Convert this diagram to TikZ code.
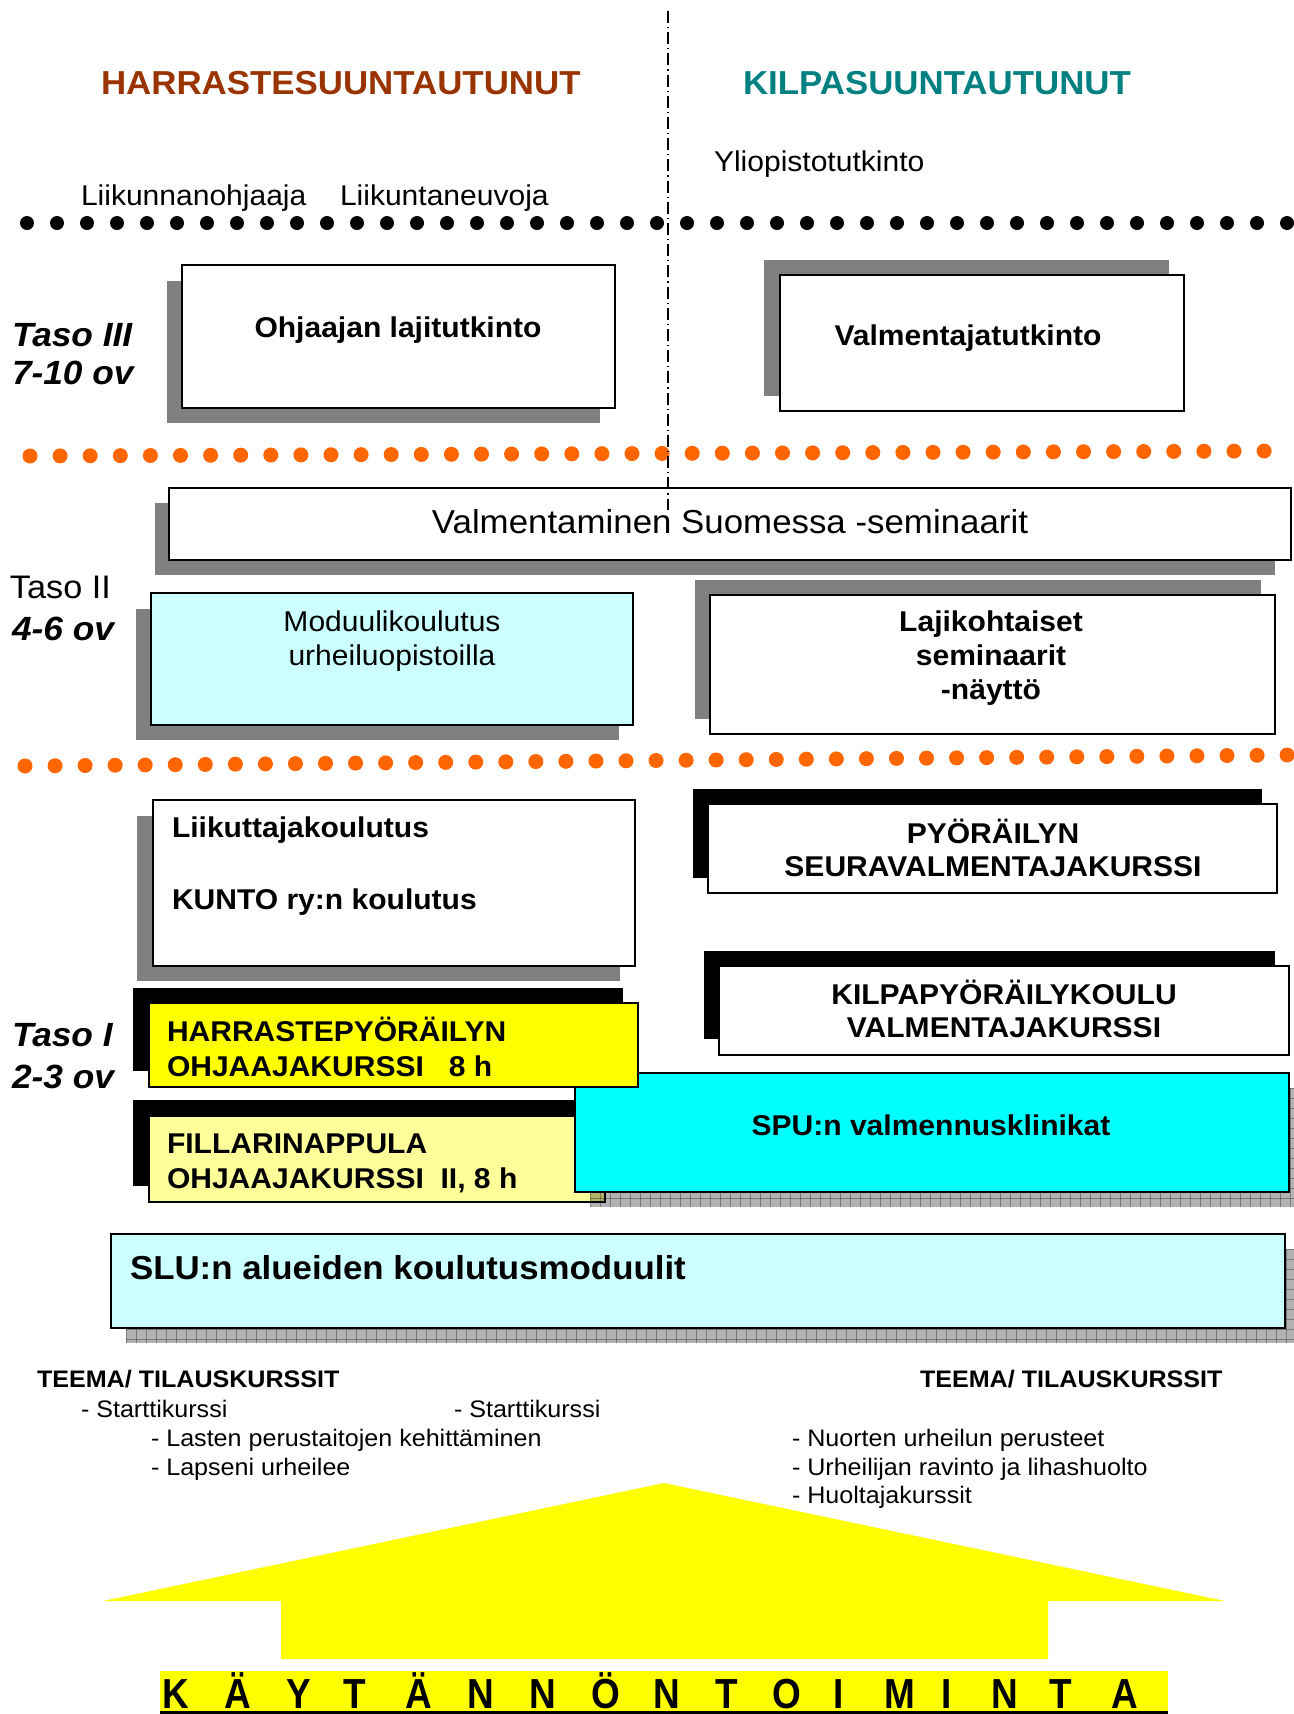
\documentclass[tikz,border=0pt]{standalone}
\usepackage{fontspec}
\setmainfont{Liberation Sans}[FakeStretch=1.05]
\newfontfamily\kayt{Liberation Sans}[FakeStretch=0.88]
\newcommand\fsz[1]{\fontsize{#1}{#1}\selectfont}
\definecolor{harr}{HTML}{993300}
\definecolor{kilpa}{HTML}{008080}
\definecolor{orng}{HTML}{FF6600}
\definecolor{shgray}{HTML}{808080}
\definecolor{lcyan}{HTML}{CCFFFF}
\definecolor{cyanb}{HTML}{00FFFF}
\definecolor{ylw}{HTML}{FFFF00}
\definecolor{lylw}{HTML}{FFFF99}
\begin{document}
\begin{tikzpicture}[x=0.5pt,y=-0.5pt,
  every node/.style={inner sep=0pt,outer sep=0pt},
  boxline/.style={draw=black,line width=0.8pt},
  gshadow/.style={fill=shgray},
  bshadow/.style={fill=black},
  lbl/.style={anchor=base},
  lblw/.style={anchor=base west},
  headf/.style={font=\bfseries\fsz{16.6}},
  regf/.style={font=\fsz{14.3}},
  boldf/.style={font=\bfseries\fsz{14.3}},
  tasof/.style={font=\bfseries\itshape\fsz{16.8}},
  smallf/.style={font=\fsz{11.95}},
  smallbf/.style={font=\bfseries\fsz{11.95}},
  gridl/.style={draw=black,line width=0.4pt,draw opacity=0.3}
]
\useasboundingbox (0,0) rectangle (1294,1714);

% ---------- headings ----------
\node[lblw,headf,text=harr] (h1) at (101,94) {HARRASTESUUNTAUTUNUT};
\node[lblw,headf,text=kilpa] (h2) at (743,94) {KILPASUUNTAUTUNUT};
\node[lblw,regf] (t1) at (714,171) {Yliopistotutkinto};
\node[lblw,regf] (t2) at (81,205) {Liikunnanohjaaja};
\node[lblw,regf] (t3) at (340,205) {Liikuntaneuvoja};

% ---------- dot rows ----------
\foreach \i in {0,...,42} \fill (27+30*\i,223) circle (3.5pt);
\foreach \i in {0,...,41} \fill[orng] ({30+30.1*\i},{456-5*\i/41}) circle (3.75pt);
\foreach \i in {0,...,42} \fill[orng] ({25+30.05*\i},{766-11*\i/42}) circle (3.75pt);

% ---------- level labels ----------
\node[lblw,tasof] (l3a) at (12,346) {Taso III};
\node[lblw,tasof] (l3b) at (12,384) {7-10 ov};
\node[lblw,font=\fsz{16.3}] (l2a) at (10,598) {Taso II};
\node[lblw,tasof] (l2b) at (12,640) {4-6 ov};
\node[lblw,tasof] (l1a) at (12,1046) {Taso I};
\node[lblw,tasof] (l1b) at (12,1088) {2-3 ov};

% ---------- Taso III boxes ----------
\fill[gshadow] (167,281) rectangle (600,423);
\draw[boxline,fill=white] (182,265) rectangle (615,408);
\node[lbl,boldf] (b1t) at (398,337) {Ohjaajan lajitutkinto};

\fill[gshadow] (764,260) rectangle (1169,396);
\draw[boxline,fill=white] (780,275) rectangle (1184,411);
\node[lbl,boldf] (b2t) at (968,345) {Valmentajatutkinto};

% ---------- Taso II boxes ----------
\fill[gshadow] (155,503) rectangle (1275,575);
\draw[boxline,fill=white] (169,488) rectangle (1291,560);
\node[lbl,font=\fsz{16.6}] (b3t) at (730,533) {Valmentaminen Suomessa -seminaarit};

\coordinate (vl1) at (668,11);
\coordinate (vl2) at (668,510);
\draw[line width=0.6pt,dash pattern=on 6pt off 2pt on 0.6pt off 2pt] (vl1) -- (vl2);

\fill[gshadow] (136,609) rectangle (619,740);
\draw[boxline,fill=lcyan] (151,593) rectangle (633,725);
\node[lbl,regf] (b4a) at (392,631) {Moduulikoulutus};
\node[lbl,regf] (b4b) at (392,665) {urheiluopistoilla};

\fill[gshadow] (695,580) rectangle (1261,719);
\draw[boxline,fill=white] (710,595) rectangle (1275,734);
\node[lbl,boldf] (b5a) at (991,631) {Lajikohtaiset};
\node[lbl,boldf] (b5b) at (991,665) {seminaarit};
\node[lbl,boldf] (b5c) at (991,699) {-näyttö};

% ---------- Taso I boxes ----------
\fill[gshadow] (137,816) rectangle (620,981);
\draw[boxline,fill=white] (153,800) rectangle (635,966);
\node[lblw,boldf] (b6a) at (172,837) {Liikuttajakoulutus};
\node[lblw,boldf] (b6b) at (172,909) {KUNTO ry:n koulutus};

\fill[bshadow] (693,789) rectangle (1262,878);
\draw[boxline,fill=white] (708,804) rectangle (1277,893);
\node[lbl,boldf] (b7a) at (993,843) {PYÖRÄILYN};
\node[lbl,boldf] (b7b) at (993,876) {SEURAVALMENTAJAKURSSI};

\fill[bshadow] (704,951) rectangle (1275,1039);
\draw[boxline,fill=white] (719,966) rectangle (1289,1055);
\node[lbl,boldf] (b8a) at (1004,1004) {KILPAPYÖRÄILYKOULU};
\node[lbl,boldf] (b8b) at (1004,1037) {VALMENTAJAKURSSI};

% FILLARINAPPULA
\fill[bshadow] (133,1100) rectangle (590,1186);
\draw[boxline,fill=lylw] (149,1116) rectangle (605,1202);
\node[lblw,boldf] (b10a) at (167,1153) {FILLARINAPPULA};
\node[lblw,boldf] (b10b) at (167,1188) {OHJAAJAKURSSI\ \ II, 8 h};

% SPU shadow (checkered)
\begin{scope}
  \clip (590,1088) rectangle (1304,1207);
  \fill[black,fill opacity=0.3] (590,1088) rectangle (1304,1207);
  \foreach \x in {590,600,...,1300} \draw[gridl] (\x,1088) -- (\x,1207);
  \foreach \y in {1088,1098,...,1207} \draw[gridl] (590,\y) -- (1304,\y);
\end{scope}
\draw[boxline,fill=cyanb] (575,1073) rectangle (1289,1192);
\node[lbl,boldf] (b11t) at (931,1135) {SPU:n valmennusklinikat};

% HARRASTEPYÖRÄILYN
\fill[bshadow] (133,988) rectangle (623,1071);
\draw[boxline,fill=ylw] (149,1003) rectangle (638,1087);
\node[lblw,boldf] (b9a) at (167,1041) {HARRASTEPYÖRÄILYN};
\node[lblw,boldf] (b9b) at (167,1076) {OHJAAJAKURSSI\ \ \ 8 h};

% SLU
\begin{scope}
  \clip (126,1249) rectangle (1304,1343);
  \fill[black,fill opacity=0.3] (126,1249) rectangle (1304,1343);
  \foreach \x in {126,136,...,1300} \draw[gridl] (\x,1249) -- (\x,1343);
  \foreach \y in {1249,1259,...,1343} \draw[gridl] (126,\y) -- (1304,\y);
\end{scope}
\draw[boxline,fill=lcyan] (111,1234) rectangle (1285,1328);
\node[lblw,headf] (b12t) at (130,1279) {SLU:n alueiden koulutusmoduulit};

% ---------- theme courses ----------
\node[lblw,smallbf] (tm1) at (37,1387) {TEEMA/ TILAUSKURSSIT};
\node[lblw,smallbf] (tm2) at (920,1387) {TEEMA/ TILAUSKURSSIT};
\node[lblw,smallf] (c1) at (81,1417) {- Starttikurssi};
\node[lblw,smallf] (c2) at (454,1417) {- Starttikurssi};
\node[lblw,smallf] (c3) at (151,1446) {- Lasten perustaitojen kehittäminen};
\node[lblw,smallf] (c4) at (151,1475) {- Lapseni urheilee};
\node[lblw,smallf] (c5) at (792,1446) {- Nuorten urheilun perusteet};
\node[lblw,smallf] (c6) at (792,1475) {- Urheilijan ravinto ja lihashuolto};
\node[lblw,smallf] (c7) at (792,1503) {- Huoltajakurssit};

% ---------- big arrow ----------
\fill[ylw] (664,1483) -- (1225,1601) -- (1048,1601) -- (1048,1659) -- (281,1659) -- (281,1601) -- (103,1601) -- cycle;

% ---------- bottom banner ----------
\fill[ylw] (160,1671) rectangle (1168,1714);
\fill[black] (160,1710.5) rectangle (1168,1714);
\foreach \c/\x [count=\k] in {K/176,Ä/238,Y/299,T/355,Ä/419,N/481,N/543,Ö/606,N/667,T/727,O/787,I/839,M/900,I/947,N/1005,T/1061,A/1125}
  \node[lbl,font=\kayt\bfseries\fsz{21}] (k\k) at (\x,1708) {\c};
\end{tikzpicture}
\end{document}
